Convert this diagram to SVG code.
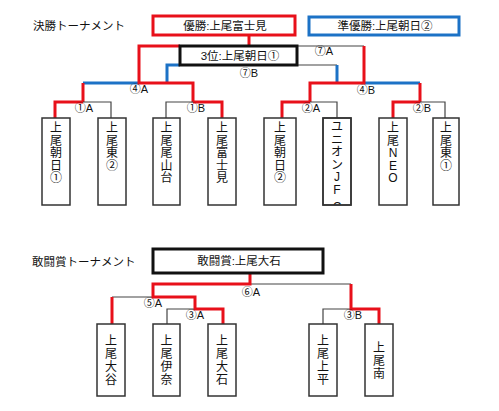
<svg xmlns="http://www.w3.org/2000/svg" width="499" height="411" viewBox="0 0 499 411">
<defs>
<style>
text{font-family:"Liberation Sans","Noto Sans CJK JP",sans-serif;fill:#111;}
.t{font-size:11.5px;}
.lb{font-size:11px;text-anchor:middle;}
.bt{font-size:11.5px;text-anchor:middle;}
.nm{font-size:12px;text-anchor:middle;}
.r{stroke:#e8101a;stroke-width:3;fill:none;}
.b{stroke:#1c72c6;stroke-width:3;fill:none;}
.k{stroke:#444;stroke-width:1.2;fill:none;}
.box{fill:#fff;stroke:#333;stroke-width:1.5;}
</style>
<clipPath id="c6"><rect x="323" y="118" width="28" height="87"/></clipPath>
</defs>
<rect width="499" height="411" fill="#fff"/>
<text class="t" x="33" y="30">決勝トーナメント</text>
<text class="t" x="32" y="266">敢闘賞トーナメント</text>

<g id="connectors">
<path class="k" d="M297,46 H364"/>
<path class="k" d="M297,65 H337"/>
<path class="b" d="M167,83 V65 H180"/>
<path class="b" d="M337,65 V83"/>
<path class="b" d="M83,83 H139"/>
<path class="b" d="M364,83 H420"/>
<path class="r" d="M249,35 V46"/>
<path class="r" d="M180,46 H139 V83 H193 V102"/>
<path class="r" d="M83,83 V102"/>
<path class="r" d="M364,46 V83 H310 V102"/>
<path class="r" d="M420,83 V102"/>
<path class="k" d="M83,102 H111 V118"/>
<path class="k" d="M166,118 V102 H193"/>
<path class="k" d="M310,102 H337 V118"/>
<path class="k" d="M420,102 H445 V118"/>
<path class="r" d="M55,118 V102 H83"/>
<path class="r" d="M193,102 H222 V118"/>
<path class="r" d="M282,118 V102 H310"/>
<path class="r" d="M393,118 V102 H420"/>
<path class="k" d="M250,284 H351"/>
<path class="k" d="M112,297 H153"/>
<path class="k" d="M167,324 V309 H195"/>
<path class="k" d="M323,324 V309 H351"/>
<path class="r" d="M250,273 V284 H153 V297 H195 V309 H223 V324"/>
<path class="r" d="M112,324 V297"/>
<path class="r" d="M351,284 V309 H379 V324"/>
</g>

<g id="labels">
<text class="lb" x="324" y="55">⑦A</text>
<text class="lb" x="249" y="77">⑦B</text>
<text class="lb" x="139" y="93">④A</text>
<text class="lb" x="366" y="94">④B</text>
<text class="lb" x="84" y="112">①A</text>
<text class="lb" x="196" y="112">①B</text>
<text class="lb" x="311" y="112">②A</text>
<text class="lb" x="422" y="112">②B</text>
<text class="lb" x="251" y="296">⑥A</text>
<text class="lb" x="153" y="307">⑤A</text>
<text class="lb" x="195" y="319">③A</text>
<text class="lb" x="353" y="319">③B</text>
</g>

<g id="winner">
<rect x="153" y="16" width="142" height="19" fill="#fff" stroke="#e8101a" stroke-width="3"/>
<text class="bt" x="225" y="30">優勝:上尾富士見</text>
</g>
<g id="runnerup">
<rect x="309" y="17" width="150" height="18" fill="#fff" stroke="#1c72c6" stroke-width="3"/>
<text class="bt" x="385" y="30">準優勝:上尾朝日②</text>
</g>
<g id="third">
<rect x="180" y="46" width="117" height="19" fill="#fff" stroke="#111" stroke-width="3"/>
<text class="bt" x="240" y="60">3位:上尾朝日①</text>
</g>
<g id="fighting">
<rect x="153" y="249" width="170" height="24" fill="#fff" stroke="#111" stroke-width="3"/>
<text class="bt" x="239" y="265">敢闘賞:上尾大石</text>
</g>

<g id="t1">
<rect class="box" x="42" y="118" width="28" height="87"/>
<text class="nm"><tspan x="56" y="132">上</tspan><tspan x="56" y="144.5">尾</tspan><tspan x="56" y="157">朝</tspan><tspan x="56" y="169.5">日</tspan><tspan x="56" y="182">①</tspan></text>
</g>
<g id="t2">
<rect class="box" x="98" y="118" width="28" height="87"/>
<text class="nm"><tspan x="112" y="132">上</tspan><tspan x="112" y="144.5">尾</tspan><tspan x="112" y="157">東</tspan><tspan x="112" y="169.5">②</tspan></text>
</g>
<g id="t3">
<rect class="box" x="153" y="118" width="27" height="87"/>
<text class="nm"><tspan x="166.5" y="132">上</tspan><tspan x="166.5" y="144.5">尾</tspan><tspan x="166.5" y="157">尾</tspan><tspan x="166.5" y="169.5">山</tspan><tspan x="166.5" y="182">台</tspan></text>
</g>
<g id="t4">
<rect class="box" x="208" y="118" width="28" height="87"/>
<text class="nm"><tspan x="222" y="132">上</tspan><tspan x="222" y="144.5">尾</tspan><tspan x="222" y="157">富</tspan><tspan x="222" y="169.5">士</tspan><tspan x="222" y="182">見</tspan></text>
</g>
<g id="t5">
<rect class="box" x="264" y="118" width="32" height="87"/>
<text class="nm"><tspan x="280" y="132">上</tspan><tspan x="280" y="144.5">尾</tspan><tspan x="280" y="157">朝</tspan><tspan x="280" y="169.5">日</tspan><tspan x="280" y="182">②</tspan></text>
</g>
<g id="t6">
<rect class="box" x="323" y="118" width="28" height="87"/>
<text class="nm" clip-path="url(#c6)"><tspan x="337" y="131">ユ</tspan><tspan x="337" y="143.5">ニ</tspan><tspan x="337" y="156">オ</tspan><tspan x="337" y="168.5">ン</tspan><tspan x="337" y="181">J</tspan><tspan x="337" y="193.5">F</tspan><tspan x="337" y="211">C</tspan></text>
<rect x="323" y="118" width="28" height="87" fill="none" stroke="#333" stroke-width="1.5"/>
</g>
<g id="t7">
<rect class="box" x="379" y="118" width="28" height="87"/>
<text class="nm"><tspan x="393" y="132">上</tspan><tspan x="393" y="144.5">尾</tspan><tspan x="393" y="157">N</tspan><tspan x="393" y="169.5">E</tspan><tspan x="393" y="182">O</tspan></text>
</g>
<g id="t8">
<rect class="box" x="433" y="118" width="26" height="87"/>
<text class="nm"><tspan x="446" y="132">上</tspan><tspan x="446" y="144.5">尾</tspan><tspan x="446" y="157">東</tspan><tspan x="446" y="169.5">①</tspan></text>
</g>

<g id="f1">
<rect class="box" x="97" y="324" width="28" height="72"/>
<text class="nm"><tspan x="111" y="345">上</tspan><tspan x="111" y="358">尾</tspan><tspan x="111" y="371">大</tspan><tspan x="111" y="384">谷</tspan></text>
</g>
<g id="f2">
<rect class="box" x="153" y="324" width="27" height="72"/>
<text class="nm"><tspan x="166.5" y="345">上</tspan><tspan x="166.5" y="358">尾</tspan><tspan x="166.5" y="371">伊</tspan><tspan x="166.5" y="384">奈</tspan></text>
</g>
<g id="f3">
<rect class="box" x="208" y="324" width="28" height="72"/>
<text class="nm"><tspan x="222" y="345">上</tspan><tspan x="222" y="358">尾</tspan><tspan x="222" y="371">大</tspan><tspan x="222" y="384">石</tspan></text>
</g>
<g id="f4">
<rect class="box" x="309" y="324" width="28" height="72"/>
<text class="nm"><tspan x="323" y="345">上</tspan><tspan x="323" y="358">尾</tspan><tspan x="323" y="371">上</tspan><tspan x="323" y="384">平</tspan></text>
</g>
<g id="f5">
<rect class="box" x="365" y="324" width="28" height="72"/>
<text class="nm"><tspan x="379" y="351.5">上</tspan><tspan x="379" y="364.5">尾</tspan><tspan x="379" y="377.5">南</tspan></text>
</g>
</svg>
